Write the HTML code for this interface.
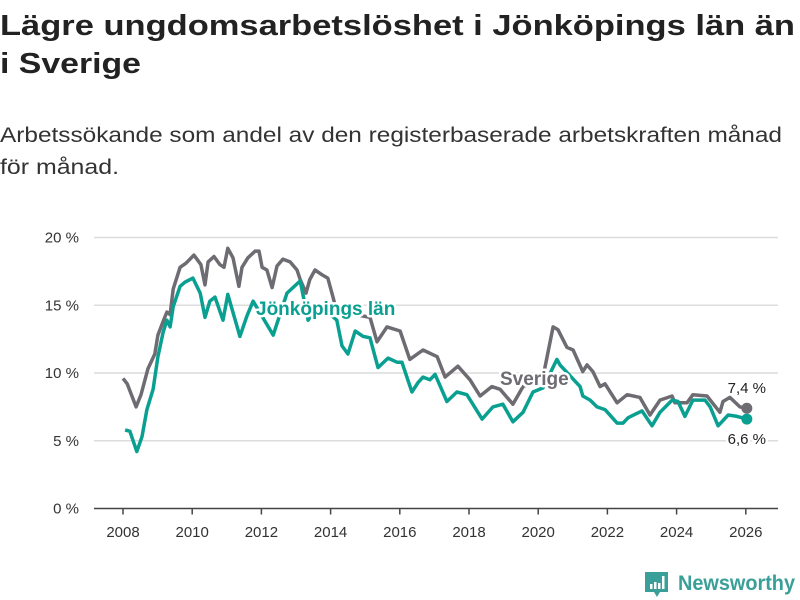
<!DOCTYPE html>
<html><head><meta charset="utf-8"><style>
html,body{margin:0;padding:0;background:#fff;}
svg{display:block;font-family:"Liberation Sans","DejaVu Sans",sans-serif;}
</style></head><body>
<svg id="chart" width="800" height="600" viewBox="0 0 800 600">
<text x="0" y="35" font-size="29" font-weight="bold" fill="#222" textLength="795" lengthAdjust="spacingAndGlyphs">Lägre ungdomsarbetslöshet i Jönköpings län än</text>
<text x="0" y="73" font-size="29" font-weight="bold" fill="#222" textLength="141" lengthAdjust="spacingAndGlyphs">i Sverige</text>
<text x="0" y="142" font-size="21" fill="#333" textLength="782" lengthAdjust="spacingAndGlyphs">Arbetssökande som andel av den registerbaserade arbetskraften månad</text>
<text x="0" y="174" font-size="21" fill="#333" textLength="119" lengthAdjust="spacingAndGlyphs">för månad.</text>
<g id="grid"></g>
<g id="xaxis"></g>
<g id="series"></g>
<g id="labels"></g>
<g>
<path d="M645 572 h23 v20 h-8 l-3 5 l-3 -5 h-9 z" fill="#3a9f98"/>
<rect x="650" y="584" width="2.5" height="5" fill="#fff"/>
<rect x="654" y="582" width="2.5" height="7" fill="#fff"/>
<rect x="658" y="583" width="2.5" height="6" fill="#fff"/>
<rect x="662" y="576" width="2.5" height="13" fill="#fff"/>
<text x="678" y="590" font-size="21" font-weight="bold" fill="#3a9f98" textLength="117" lengthAdjust="spacingAndGlyphs">Newsworthy</text>
</g>
</svg>
<script>
const yTicks = [0, 5, 10, 15, 20];
const yTickLabels = ["0 %", "5 %", "10 %", "15 %", "20 %"];
const xTicks = [2008, 2010, 2012, 2014, 2016, 2018, 2020, 2022, 2024, 2026];
const sverigeDates = [2008.00,2008.12,2008.38,2008.52,2008.72,2008.92,2009.01,2009.16,2009.27,2009.36,2009.45,2009.65,2009.82,2010.05,2010.25,2010.37,2010.46,2010.63,2010.80,2010.92,2011.03,2011.18,2011.35,2011.44,2011.61,2011.82,2011.93,2012.02,2012.16,2012.31,2012.45,2012.62,2012.83,2013.03,2013.12,2013.29,2013.40,2013.55,2013.78,2013.92,2014.07,2014.18,2014.36,2014.55,2015.14,2015.34,2015.63,2016.01,2016.29,2016.67,2017.08,2017.31,2017.68,2018.03,2018.32,2018.66,2018.90,2019.27,2019.56,2020.14,2020.43,2020.57,2020.83,2021.01,2021.29,2021.41,2021.58,2021.79,2021.93,2022.28,2022.57,2022.94,2023.23,2023.52,2023.87,2023.95,2024.30,2024.47,2024.88,2025.25,2025.34,2025.54,2025.83,2026.03];
const sverigeValues = [9.6,9.2,7.5,8.4,10.3,11.4,12.8,13.8,14.5,14.3,16.2,17.8,18.1,18.7,18.0,16.5,18.2,18.6,18.0,17.8,19.2,18.5,16.4,17.8,18.5,19.0,19.0,17.8,17.6,16.3,17.9,18.4,18.2,17.6,16.9,15.9,16.9,17.6,17.2,17.0,15.6,14.5,14.0,14.4,14.1,12.3,13.4,13.1,11.0,11.7,11.2,9.7,10.5,9.5,8.3,9.0,8.8,7.7,9.0,9.7,13.4,13.2,11.9,11.7,10.1,10.6,10.1,9.0,9.2,7.8,8.4,8.2,6.9,8.0,8.3,7.8,7.8,8.4,8.3,7.1,7.9,8.2,7.5,7.4];
const jkpDates = [2008.06,2008.20,2008.40,2008.55,2008.69,2008.87,2009.01,2009.16,2009.27,2009.36,2009.45,2009.65,2009.79,2010.02,2010.23,2010.37,2010.51,2010.66,2010.89,2011.03,2011.38,2011.58,2011.76,2012.34,2012.74,2013.12,2013.35,2013.69,2014.18,2014.33,2014.50,2014.71,2014.94,2015.14,2015.37,2015.66,2015.92,2016.06,2016.35,2016.53,2016.67,2016.87,2017.02,2017.36,2017.65,2017.94,2018.38,2018.69,2018.98,2019.27,2019.56,2019.85,2020.14,2020.54,2020.63,2021.21,2021.29,2021.50,2021.70,2021.93,2022.28,2022.45,2022.60,2023.00,2023.29,2023.52,2023.87,2024.04,2024.24,2024.47,2024.82,2024.97,2025.20,2025.49,2025.75,2026.03];
const jkpValues = [5.8,5.7,4.2,5.3,7.3,8.8,11.2,13.0,13.9,13.4,14.9,16.4,16.7,17.0,15.9,14.1,15.3,15.6,13.9,15.8,12.7,14.2,15.3,12.8,15.9,16.8,13.9,15.0,13.9,12.0,11.4,13.1,12.7,12.6,10.4,11.1,10.8,10.8,8.6,9.3,9.7,9.5,9.9,7.9,8.6,8.4,6.6,7.5,7.7,6.4,7.1,8.6,8.9,11.0,10.6,9.0,8.3,8.0,7.5,7.3,6.3,6.3,6.7,7.2,6.1,7.1,8.0,7.9,6.8,8.0,8.0,7.5,6.1,6.9,6.8,6.6];
const lastLabels = ["7,4 %", "6,6 %"];

const NS = "http://www.w3.org/2000/svg";
const x0 = 123, pxPerYear = 34.6, yZero = 508.5, pxPerUnit = 13.55;
function xScale(d){ return x0 + (d - 2008) * pxPerYear; }
function yScale(v){ return yZero - v * pxPerUnit; }
function mk(tag, attrs, parent){ const e = document.createElementNS(NS, tag); for (const k in attrs) e.setAttribute(k, attrs[k]); parent.appendChild(e); return e; }

const grid = document.getElementById('grid');
yTicks.forEach((t, i) => {
  if (t !== 0) {
    const l = mk('line', {x1: 94, x2: 778, y1: yScale(t), y2: yScale(t), stroke: '#dcdcdc', 'stroke-width': 1.5}, grid);
    
    
  }
  const tx = mk('text', {x: 79, y: yScale(t) + 5, 'font-size': 15, fill: '#333', 'text-anchor': 'end'}, grid);
  tx.textContent = yTickLabels[i];
  
  
});
const xa = document.getElementById('xaxis');
const axl = mk('line', {x1: 94, x2: 778, y1: yZero, y2: yZero, stroke: '#444', 'stroke-width': 1.5}, xa);


xTicks.forEach(t => {
  const tk = mk('line', {x1: xScale(t), x2: xScale(t), y1: yZero, y2: yZero + 6, stroke: '#444', 'stroke-width': 1.5}, xa);
  
  
  const tx = mk('text', {x: xScale(t), y: 537, 'font-size': 15, fill: '#333', 'text-anchor': 'middle'}, xa);
  tx.textContent = String(t);
  
  
});

const ser = document.getElementById('series');
function drawLine(dates, vals, color, name){
  const d = dates.map((dt, i) => (i ? 'L' : 'M') + xScale(dt).toFixed(1) + ' ' + yScale(vals[i]).toFixed(1)).join(' ');
  const p = mk('path', {d: d, fill: 'none', stroke: color, 'stroke-width': 3.5, 'stroke-linejoin': 'round'}, ser);
  
  
  const n = dates.length - 1;
  const c = mk('circle', {cx: xScale(dates[n]), cy: yScale(vals[n]), r: 5.5, fill: color}, ser);
  
  
}
drawLine(sverigeDates, sverigeValues, '#6e6c72', 'sverige');
drawLine(jkpDates, jkpValues, '#0aa091', 'jonkoping');

const lab = document.getElementById('labels');
function halo(x, y, txt, color, size, weight, anchor, name){
  const a = mk('text', {x: x, y: y, 'font-size': size, 'font-weight': weight, fill: '#fff', stroke: '#fff', 'stroke-width': 5, 'stroke-linejoin': 'round', 'text-anchor': anchor}, lab);
  a.textContent = txt;
  const b = mk('text', {x: x, y: y, 'font-size': size, 'font-weight': weight, fill: color, 'text-anchor': anchor}, lab);
  b.textContent = txt;
  
  
}
halo(256, 315, 'Jönköpings län', '#0aa091', 19, 'bold', 'start', 'jonkoping-series-label');
halo(500, 385, 'Sverige', '#6e6c72', 19, 'bold', 'start', 'sverige-series-label');
const sn = sverigeDates.length - 1, jn = jkpDates.length - 1;
halo(xScale(sverigeDates[sn]), yScale(sverigeValues[sn]) - 15, lastLabels[0], '#222', 15, 'normal', 'middle', 'sverige-last-value-label');
halo(xScale(jkpDates[jn]), yScale(jkpValues[jn]) + 25, lastLabels[1], '#222', 15, 'normal', 'middle', 'jonkoping-last-value-label');
</script>
</body></html>
